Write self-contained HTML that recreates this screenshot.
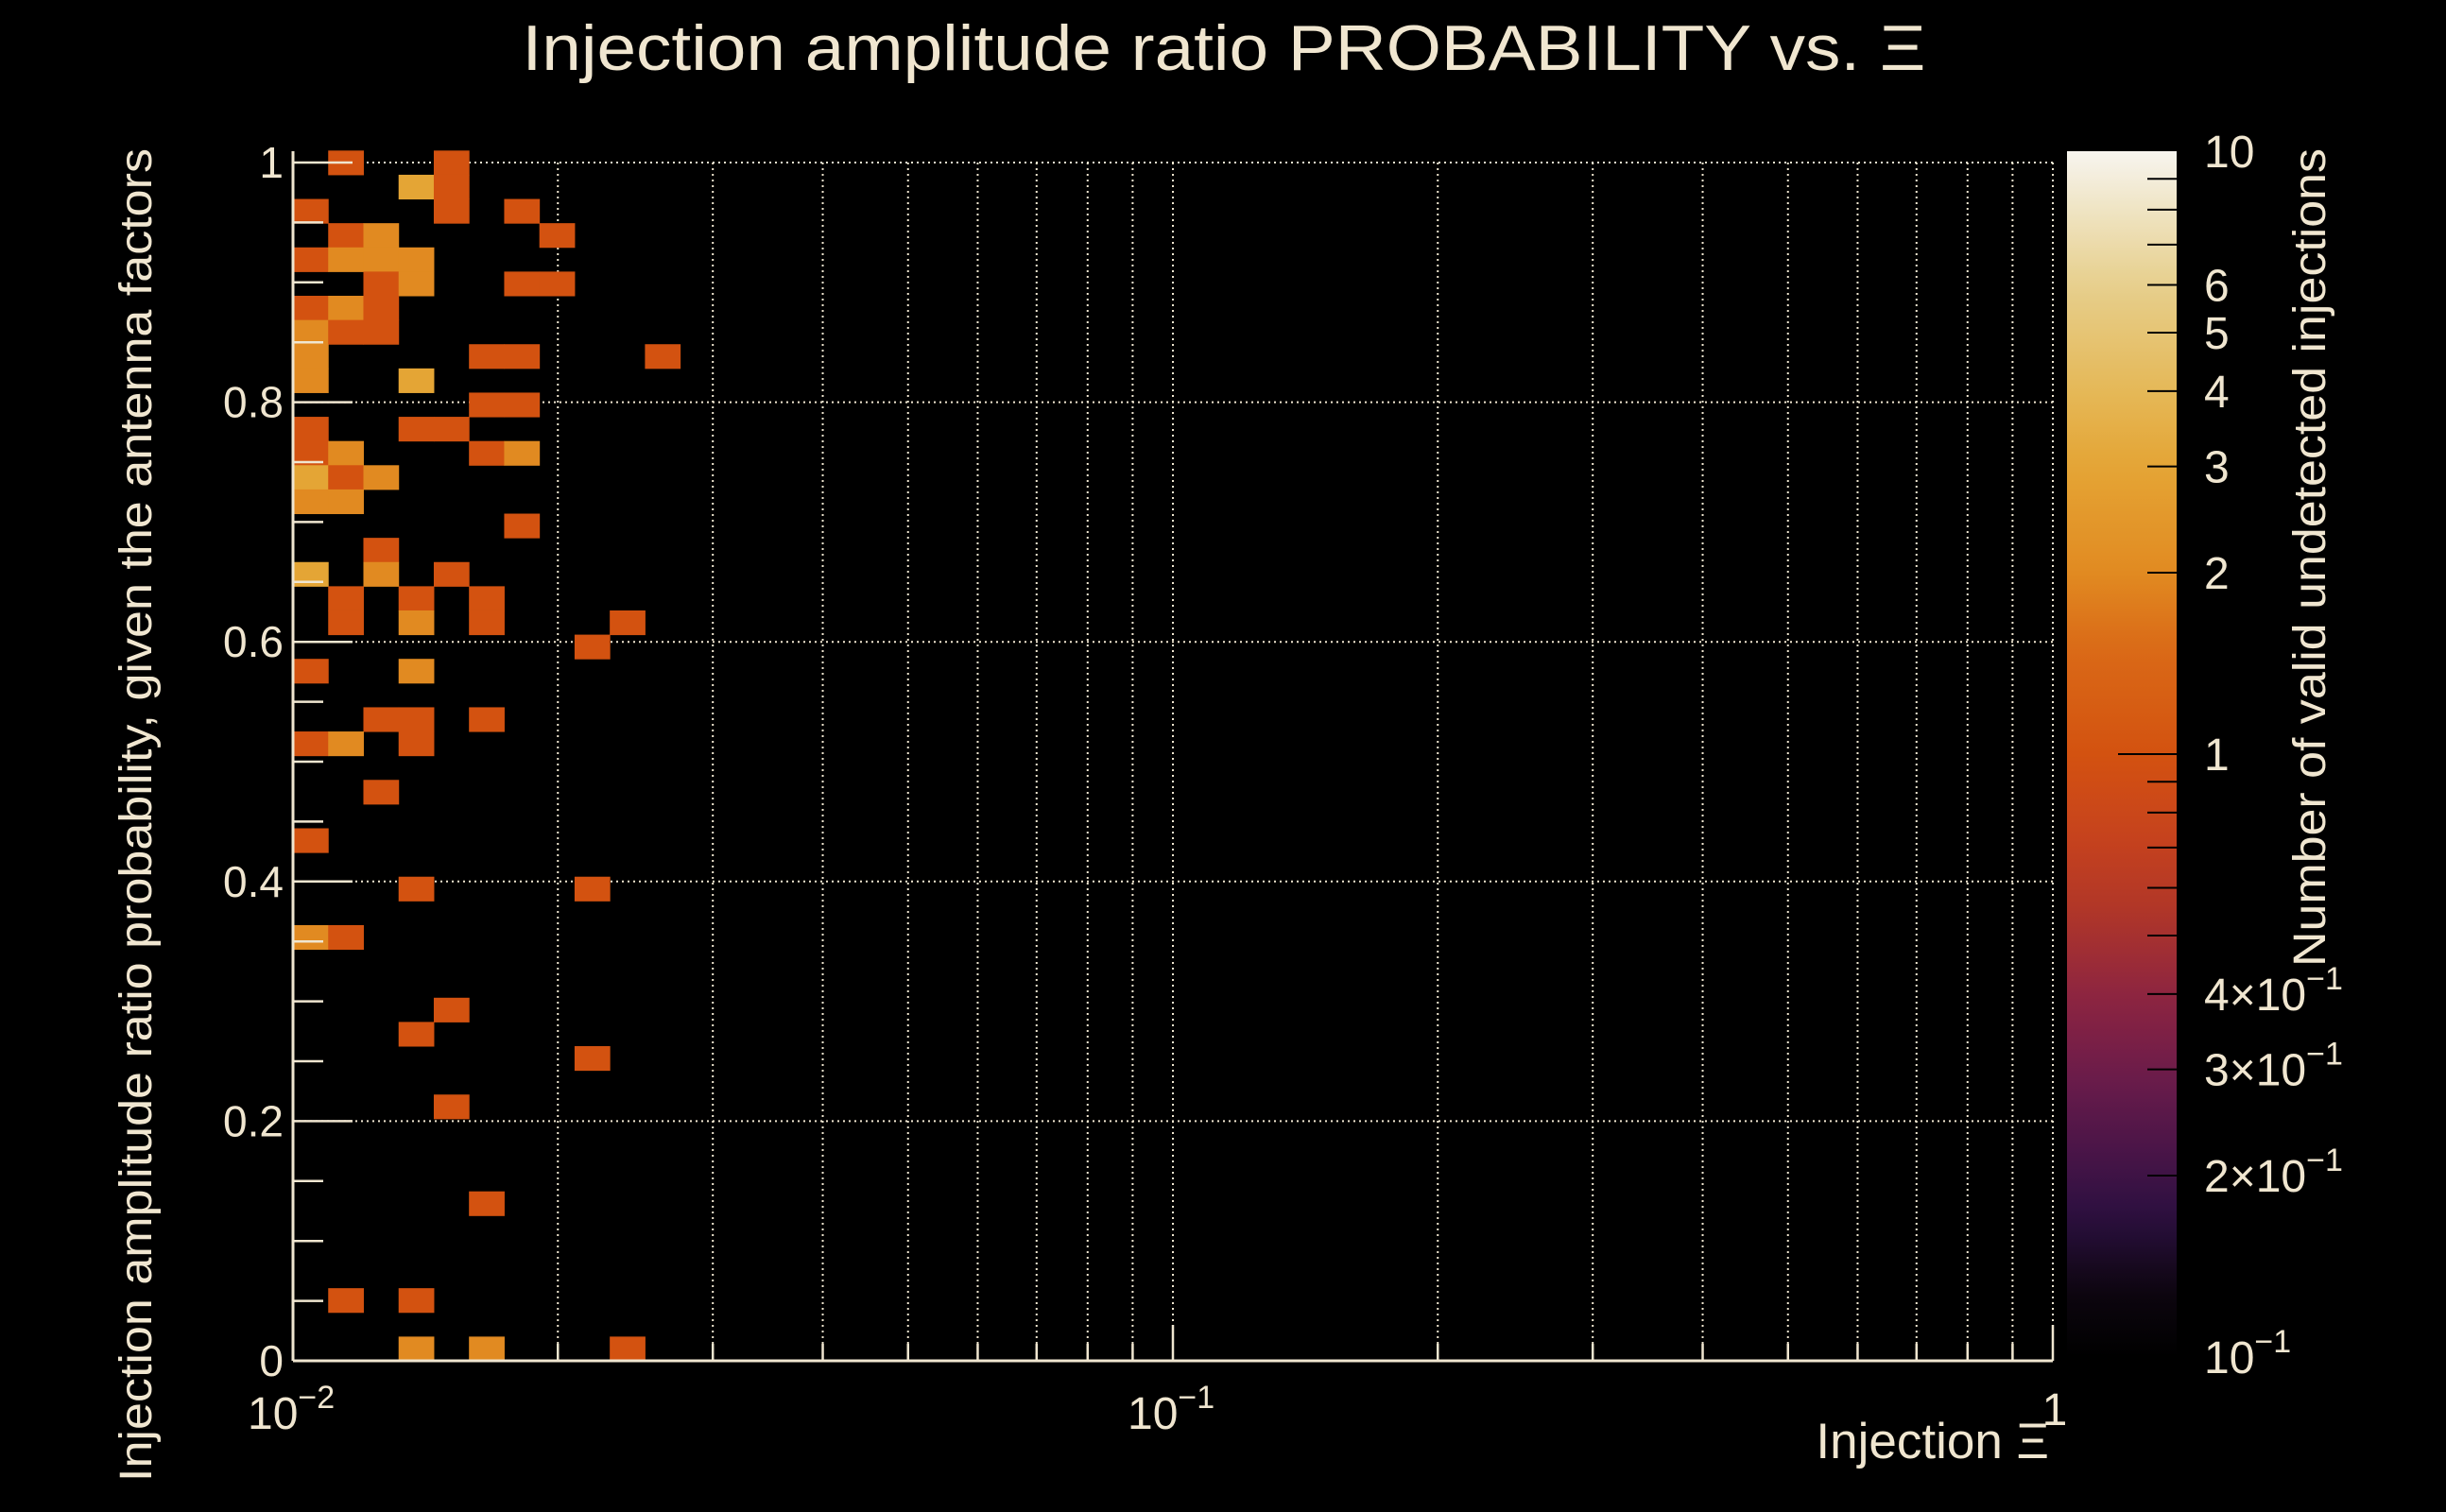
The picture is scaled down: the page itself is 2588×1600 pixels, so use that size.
<!DOCTYPE html>
<html><head><meta charset="utf-8">
<style>
html,body{margin:0;padding:0;background:#000;}
svg{display:block;}
text{font-family:"Liberation Sans",sans-serif;fill:#f0e6d0;}
</style></head>
<body>
<svg id="chart" width="2588" height="1600" viewBox="0 0 2588 1600" xmlns="http://www.w3.org/2000/svg">
<rect width="2588" height="1600" fill="#000"/>
<text x="1295" y="74" font-size="68" text-anchor="middle" textLength="1485" lengthAdjust="spacingAndGlyphs">Injection amplitude ratio PROBABILITY vs.  Ξ</text>
<g id="grid"></g>
<g id="cells"></g>
<g id="axes"></g>
<g id="cbar"></g>
<text transform="translate(160,157) rotate(-90)" font-size="48" text-anchor="end" textLength="1411" lengthAdjust="spacingAndGlyphs">Injection amplitude ratio probability, given the antenna factors</text>
<text x="2168" y="1543" font-size="53" text-anchor="end">Injection Ξ</text>
<text transform="translate(2460,157) rotate(-90)" font-size="48" text-anchor="end" textLength="866" lengthAdjust="spacingAndGlyphs">Number of valid undetected injections</text>
</svg>
<script>
// ---- data ----
const cellCol = [1,4, 3,4, 0,4,6, 1,2,7, 0,1,2,3, 2,3,6,7, 0,1,2, 0,1,2, 0,5,6,10, 0,3, 5,6, 0,3,4, 0,1,5,6, 0,1,2, 0,1, 6, 2, 0,2,4, 1,3,5, 1,3,5,9, 8, 0,3, 2,3,5, 0,1,3, 2, 0, 3,8, 0,1, 4, 3, 8, 4, 5, 1,3, 3,5,9];
const cellRowFromTop = [0,0, 1,1, 2,2,2, 3,3,3, 4,4,4,4, 5,5,5,5, 6,6,6, 7,7,7, 8,8,8,8, 9,9, 10,10, 11,11,11, 12,12,12,12, 13,13,13, 14,14, 15, 16, 17,17,17, 18,18,18, 19,19,19,19, 20, 21,21, 23,23,23, 24,24,24, 26, 28, 30,30, 32,32, 35, 36, 37, 39, 43, 47,47, 49,49,49];
const cellCount = [1,1, 3,1, 1,1,1, 1,2,1, 1,2,2,2, 1,2,1,1, 1,2,1, 2,1,1, 2,1,1,1, 2,3, 1,1, 1,1,1, 1,2,1,2, 3,1,2, 2,2, 1, 1, 3,2,1, 1,1,1, 1,2,1,1, 1, 1,2, 1,1,1, 1,2,1, 1, 1, 1,1, 2,1, 1, 1, 1, 1, 1, 1,1, 2,2,1];
const yTicks = [0,0.2,0.4,0.6,0.8,1];
const yTickLabels = ["0","0.2","0.4","0.6","0.8","1"];
const cbarTicks = [10,6,5,4,3,2,1,0.4,0.3,0.2,0.1];
const cbarTickLabels = ["10","6","5","4","3","2","1","4×10<tspan dy='-22' font-size='34'>−1</tspan>","3×10<tspan dy='-22' font-size='34'>−1</tspan>","2×10<tspan dy='-22' font-size='34'>−1</tspan>","10<tspan dy='-22' font-size='34'>−1</tspan>"];
// ---- geometry ----
const NS="http://www.w3.org/2000/svg";
const L=310,R=2172,T=172,B=1440;
const xMinLog=-2, xMaxLog=0, nXBins=50;
const yBinW=0.0202, nYBins=50;
function xS(v){return L+(Math.log10(v)-xMinLog)/(xMaxLog-xMinLog)*(R-L);}
function yS(v){return B-v*(B-T);}
const CT=160,CB=1436,CL=2187,CR=2303;
function cS(v){return CB-(Math.log10(v)+1)/2*(CB-CT);}
const stops=[[0.1,[0,0,0]],[0.13,[14,6,16]],[0.17,[42,15,64]],[0.22,[74,21,72]],[0.3,[110,28,74]],[0.4,[142,37,64]],[0.55,[176,54,40]],[0.75,[200,68,28]],[1,[211,82,16]],[1.5,[218,106,23]],[2,[225,138,33]],[3,[228,165,53]],[4,[229,184,88]],[6,[230,207,140]],[10,[247,245,239]]];
function cmap(v){const lv=Math.log10(v);for(let i=0;i<stops.length-1;i++){const a=Math.log10(stops[i][0]),b=Math.log10(stops[i+1][0]);if(lv<=b){const t=Math.max(0,(lv-a)/(b-a));const c=stops[i][1].map((x,j)=>Math.round(x+(stops[i+1][1][j]-x)*t));return `rgb(${c[0]},${c[1]},${c[2]})`;}}return 'rgb(247,245,239)';}
function mk(tag,attrs,parent){const e=document.createElementNS(NS,tag);for(const k in attrs)e.setAttribute(k,attrs[k]);parent.appendChild(e);return e;}
const grid=document.getElementById('grid'),cells=document.getElementById('cells'),axes=document.getElementById('axes'),cbar=document.getElementById('cbar');
const gs={stroke:'#f0e6d0','stroke-width':2,'stroke-dasharray':'2 4'};
// grid
for(let d=-2;d<0;d++)for(let m=1;m<=9;m++){const v=m*Math.pow(10,d);if(d===-2&&m===1)continue;const x=xS(v);
 const g=mk('line',Object.assign({x1:x,x2:x,y1:T,y2:B},gs),grid);
 
 }
{const g=mk('line',Object.assign({x1:R,x2:R,y1:T,y2:B},gs),grid);
 
 }
yTicks.forEach(v=>{if(v===0)return;const y=yS(v);const g=mk('line',Object.assign({x1:L,x2:R,y1:y,y2:y},gs),grid);
 
 });
// cells
for(let i=0;i<cellCol.length;i++){
 const k=nYBins-1-cellRowFromTop[i];
 const x0=xS(Math.pow(10,xMinLog+cellCol[i]*(xMaxLog-xMinLog)/nXBins));
 const x1=xS(Math.pow(10,xMinLog+(cellCol[i]+1)*(xMaxLog-xMinLog)/nXBins));
 const y0=yS((k+1)*yBinW), y1=yS(k*yBinW);
 const r=mk('rect',{x:x0,y:y0,width:x1-x0+0.5,height:y1-y0+0.5,fill:cmap(cellCount[i])},cells);
 
 
}
// axes lines
const ax={stroke:'#f0e6d0','stroke-width':3};
{const a=mk('line',Object.assign({x1:L,x2:L,y1:T-12,y2:B},ax),axes);}
{const a=mk('line',Object.assign({x1:L,x2:R,y1:B,y2:B},ax),axes);}
// y ticks
for(let v=0;v<=1.0001;v+=0.05){const y=yS(v);const major=Math.abs(v*5-Math.round(v*5))<1e-6;
 const t=mk('line',{x1:L,x2:L+(major?63:32),y1:y,y2:y,stroke:'#f0e6d0','stroke-width':2.5},axes);
 
 }
yTicks.forEach((v,i)=>{const t=mk('text',{x:300,y:yS(v)+16,'font-size':46,'text-anchor':'end'},axes);t.textContent=yTickLabels[i];
 
 });
// x ticks
for(let d=-2;d<=0;d++)for(let m=1;m<=9;m++){const v=m*Math.pow(10,d);if(v>1.0001)continue;const x=xS(v);
 const t=mk('line',{x1:x,x2:x,y1:B,y2:B-(m===1?38:18),stroke:'#f0e6d0','stroke-width':2.5},axes);
 
 }
[[-2,'10<tspan dy="-22" font-size="34">−2</tspan>',1494],[-1,'10<tspan dy="-22" font-size="34">−1</tspan>',1494]].forEach(a=>{
 const t=mk('text',{x:xS(Math.pow(10,a[0]))-48,y:a[2]+18,'font-size':48},axes);t.innerHTML=a[1];
 
 });
{const t=mk('text',{x:xS(1)+2,y:1508,'font-size':48,'text-anchor':'middle'},axes);t.textContent='1';
 
 }
// colorbar
const defs=mk('defs',{},cbar);const lg=mk('linearGradient',{id:'cg',x1:0,y1:1,x2:0,y2:0},defs);
for(let i=0;i<=40;i++){const v=Math.pow(10,-1+i*2/40);mk('stop',{offset:(i/40),'stop-color':cmap(v)},lg);}
{const r=mk('rect',{x:CL,y:CT,width:CR-CL,height:CB-CT,fill:'url(#cg)'},cbar);}
for(let d=-1;d<=0;d++)for(let m=1;m<=9;m++){const v=m*Math.pow(10,d);if(d===-1&&m===1)continue;const y=cS(v);
 const t=mk('line',{x1:CR,x2:CR-(m===1?62:31),y1:y,y2:y,stroke:'#000','stroke-width':2},cbar);
 
 }
cbarTicks.forEach((v,i)=>{const t=mk('text',{x:2332,y:cS(v)+17,'font-size':48},cbar);t.innerHTML=cbarTickLabels[i];
 
 });
</script>
</body></html>
